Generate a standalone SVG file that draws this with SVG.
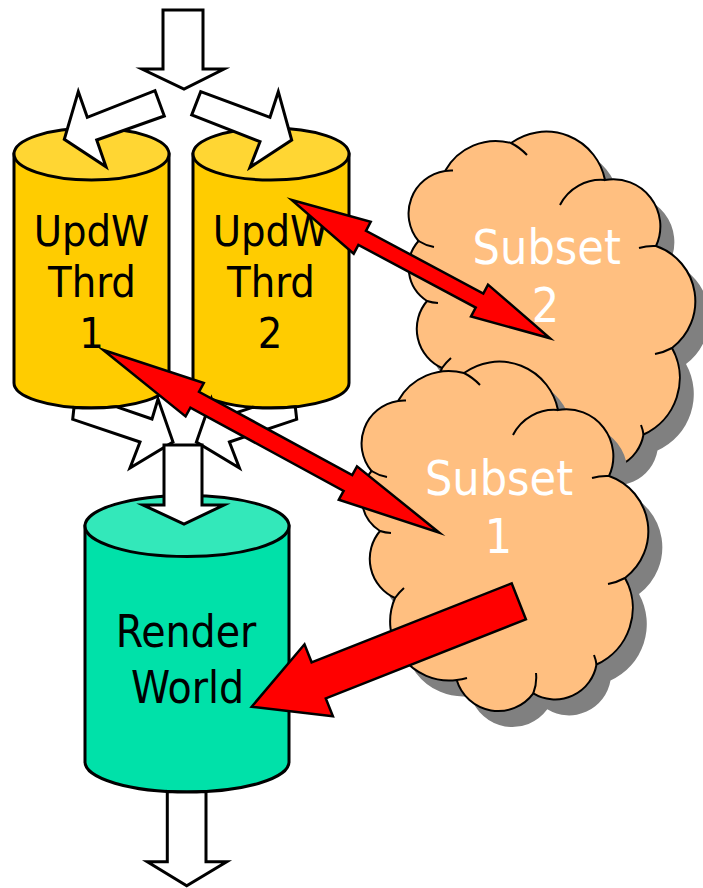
<svg xmlns="http://www.w3.org/2000/svg" xmlns:xlink="http://www.w3.org/1999/xlink" width="703" height="888" viewBox="0 0 703 888">
  <style>
    .cyl{stroke:#000;stroke-width:3}
    .yBody{fill:#FFCC00}
    .yTop{fill:#FFD633}
    .gBody{fill:#00E1A9}
    .gTop{fill:#33E8BA}
    .lbl{font-family:"DejaVu Sans Condensed","DejaVu Sans",sans-serif;font-stretch:condensed;text-anchor:middle}
    .dark{fill:#000}
    .light{fill:#fff}
    .cloud{fill:#FFBF80;stroke:#000;stroke-width:2;stroke-linejoin:miter}
    .shade{fill:#808080}
    .crease{fill:none;stroke:#000;stroke-width:2}
    .hollow{fill:#fff;stroke:#000;stroke-width:3;stroke-linejoin:miter;stroke-miterlimit:8}
    .red{fill:#FF0000;stroke:#000;stroke-width:2.5;stroke-linejoin:miter;stroke-miterlimit:8}
  </style>
  <defs>
    <!-- cloud outline: eleven bumps, clockwise from the upper-left cusp -->
    <path id="cloudShape" d="M398,401 A58 58 0 0 1 464,373 A60 60 0 0 1 558,410 A47 47 0 0 1 609,476 A58.5 58.5 0 0 1 625,578 A62 62 0 0 1 596.5,664.5 A42 42 0 0 1 533.3,693.3 A43.4 43.4 0 0 1 456.7,680 A59 59 0 0 1 395,598 A43 43 0 0 1 380,531 A40 40 0 0 1 371.5,471 A43 43 0 0 1 398,401 Z"/>
    <!-- short inner arcs where the bumps meet -->
    <path id="cloudCreases" d="M398,401 A43 43 0 0 1 406,400.6 M464,373 A58 58 0 0 1 480,385 M513,435 A46 46 0 0 1 558,410 M609,476 A50 50 0 0 0 592,478 M625,578 A58 58 0 0 1 608,584 M596.5,664.5 A42 42 0 0 0 594,655 M533.3,693.3 A43 43 0 0 0 536,673 M456.7,680 A59 59 0 0 0 467,678 M395,598 A59 59 0 0 1 404,588 M380,531 A40 40 0 0 0 391,533 M371.5,471 A43 43 0 0 0 387,477"/>
  </defs>

  <rect width="703" height="888" fill="#fff"/>

  <!-- update-world thread 1 -->
  <g id="updw1">
    <path class="cyl yBody" d="M14,154 V383 A77.5 25 0 0 0 169,383 V154 Z"/>
    <ellipse class="cyl yTop" cx="91.5" cy="154" rx="77.5" ry="26"/>
    <text class="lbl dark" font-size="43" x="91.5" y="246">UpdW</text>
    <text class="lbl dark" font-size="43" x="92" y="297">Thrd</text>
    <text class="lbl dark" font-size="43" x="91.5" y="348">1</text>
  </g>

  <!-- update-world thread 2 -->
  <g id="updw2">
    <path class="cyl yBody" d="M193,154 V383 A78 25 0 0 0 349,383 V154 Z"/>
    <ellipse class="cyl yTop" cx="271" cy="154" rx="78" ry="26"/>
    <text class="lbl dark" font-size="43" x="270.5" y="246">UpdW</text>
    <text class="lbl dark" font-size="43" x="271" y="297">Thrd</text>
    <text class="lbl dark" font-size="43" x="270" y="348">2</text>
  </g>

  <!-- render world -->
  <g id="render">
    <path class="cyl gBody" d="M85,526 V762 A102 30 0 0 0 289,762 V526 Z"/>
    <ellipse class="cyl gTop" cx="187" cy="526" rx="102" ry="30.5"/>
    <text class="lbl dark" font-size="44" x="186" y="647">Render</text>
    <text class="lbl dark" font-size="44" x="187.5" y="703">World</text>
  </g>

  <!-- subset 2 cloud -->
  <g id="subset2">
    <use xlink:href="#cloudShape" class="shade" transform="translate(61,-214)"/>
    <use xlink:href="#cloudShape" class="cloud" transform="translate(47,-230)"/>
    <use xlink:href="#cloudCreases" class="crease" transform="translate(47,-230)"/>
    <text class="lbl light" font-size="48" x="546.7" y="264">Subset</text>
    <text class="lbl light" font-size="48" x="545.5" y="322">2</text>
  </g>

  <!-- subset 1 cloud -->
  <g id="subset1">
    <use xlink:href="#cloudShape" class="shade" transform="translate(14,16)"/>
    <use xlink:href="#cloudShape" class="cloud"/>
    <use xlink:href="#cloudCreases" class="crease"/>
    <text class="lbl light" font-size="48" x="499" y="495">Subset</text>
    <text class="lbl light" font-size="48" x="498.5" y="552.7">1</text>
  </g>

  <g id="connectors">
    <!-- block arrows: work split between the two threads, then merged -->
    <polygon class="hollow" points="163,10 203,10 203,69 224,69 184,89 142,69 163,69"/>
    <polygon class="hollow" points="155,90.7 164.3,116 96.7,140 106,166.7 64.3,139.3 78.3,91.7 87.3,117.3"/>
    <polygon class="hollow" points="200.7,91.7 270,117.3 278.3,91.7 291.7,140 250,167.3 260,141.7 191.7,115"/>
    <path class="hollow" d="M116,406.7 L152,419 L158,399 L173,442 L130,468 L140,442 L72.7,419.3 L74,407.4 A77.5 25 0 0 0 116,406.7 Z"/>
    <path class="hollow" d="M252.5,407.3 L217.4,419 L211.4,399 L196.4,442 L239.4,468 L229.4,442 L296.7,419.3 L295.3,406.8 A78 25 0 0 1 252.5,407.3 Z"/>
    <polygon class="hollow" points="164,445 202,445 202,505 224,505 184,524 143,505 164,505"/>
    <path class="hollow" d="M167.3,791.4 L167.3,861.7 L147.3,861.7 L186.7,885.7 L226.7,861.7 L206,861.7 L206,791.5 A102 30 0 0 1 167.3,791.4 Z"/>
    <!-- red links between threads, subsets and the render world -->
    <polygon class="red" points="291.7,200 370.7,221.9 366,230.8 483.3,293.5 488,284.6 550,338.3 471,316.4 475.7,307.6 358.4,244.9 353.7,253.7"/>
    <polygon class="red" points="103.3,350 203.8,383 199,391.8 352.2,475.1 357,466.3 439.3,532.7 338.8,499.7 343.6,490.9 190.4,407.6 185.6,416.4"/>
    <polygon class="red" points="511.7,583.3 311.6,662.3 304.5,644.3 251.7,706.7 332.9,716.3 325.8,698.4 525.9,619.3"/>
  </g>
</svg>
